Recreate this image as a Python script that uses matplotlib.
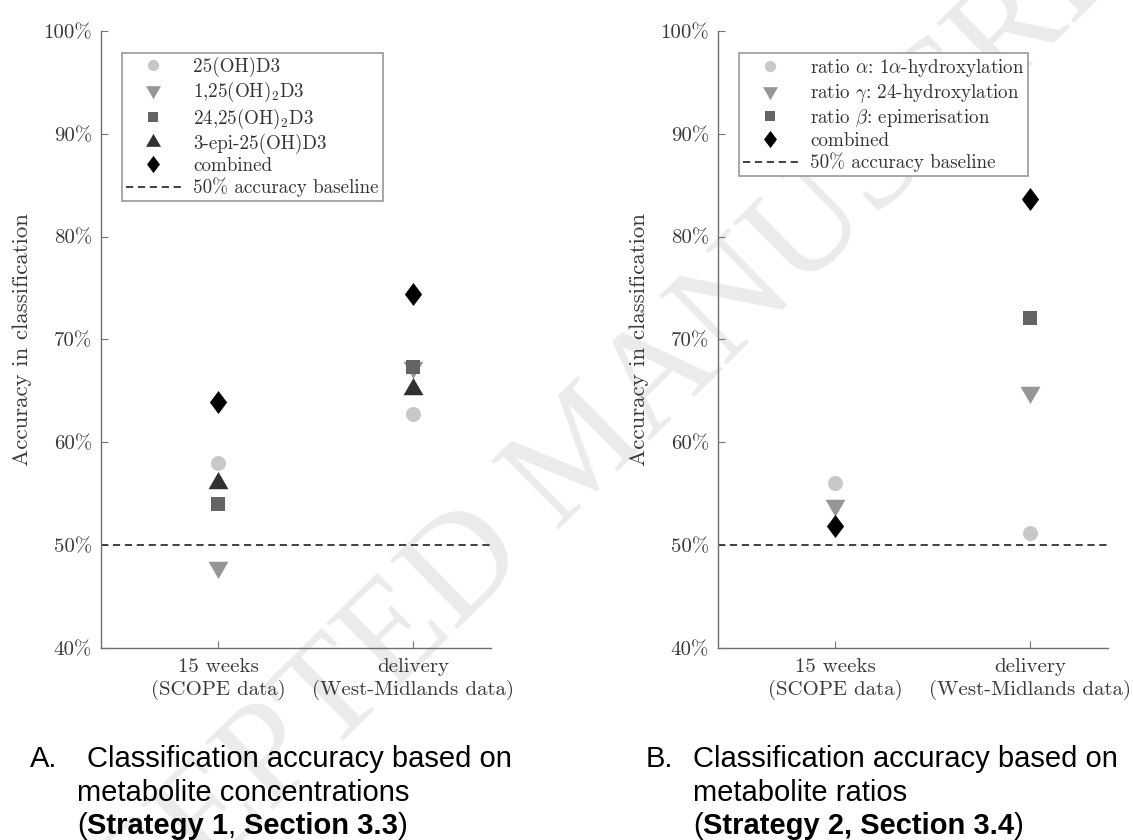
import numpy as np
import matplotlib
matplotlib.use('Agg')
import matplotlib.pyplot as plt

plt.rcParams['font.family'] = 'serif'
plt.rcParams['font.serif'] = ['cmr10']
plt.rcParams['mathtext.fontset'] = 'cm'
plt.rcParams['axes.unicode_minus'] = False
plt.rcParams['axes.formatter.use_mathtext'] = True

# ---------------- data ----------------
categories = ['15 weeks\n(SCOPE data)', 'delivery\n(West-Midlands data)']
ytick_values = [40, 50, 60, 70, 80, 90, 100]
ytick_labels = ['40%', '50%', '60%', '70%', '80%', '90%', '100%']
baseline_value = 50
baseline_label = '50% accuracy baseline'

# Panel A: metabolite concentrations
conc_labels = ['25(OH)D3', r'1,25(OH)$_2$D3', r'24,25(OH)$_2$D3',
               '3-epi-25(OH)D3', 'combined']
conc_25OHD3 = [58.0, 62.8]
conc_125OH2D3 = [47.9, 67.3]
conc_2425OH2D3 = [54.0, 67.3]
conc_3epi25OHD3 = [56.0, 65.2]
conc_combined = [63.9, 74.4]

# Panel B: metabolite ratios
ratio_labels = [r'ratio $\alpha$: 1$\alpha$-hydroxylation',
                r'ratio $\gamma$: 24-hydroxylation',
                r'ratio $\beta$: epimerisation', 'combined']
ratio_alpha = [56.0, 51.2]
ratio_gamma = [53.9, 64.9]
ratio_beta = [np.nan, 72.1]
ratio_combined = [51.9, 83.7]

caption_A = [
    [('A.', 'normal', 30)],
    [('Classification accuracy based on', 'normal', 87)],
    [('metabolite concentrations', 'normal', 77)],
    [('(', 'normal', 77), ('Strategy 1', 'bold', None), (', ', 'normal', None),
     ('Section 3.3', 'bold', None), (')', 'normal', None)],
]
caption_B = [
    [('B.', 'normal', 646)],
    [('Classification accuracy based on', 'normal', 693)],
    [('metabolite ratios', 'normal', 693)],
    [('(', 'normal', 693), ('Strategy 2, Section 3.4', 'bold', None),
     (')', 'normal', None)],
]

# ---------------- styles ----------------
W, H = 1133, 840
tri_up = [(0, 1.1547), (-1, -0.57735), (1, -0.57735), (0, 1.1547)]
tri_down = [(x, -y) for x, y in tri_up]
diamond = [(0, 1), (0.75, 0), (0, -1), (-0.75, 0), (0, 1)]
px = 72.0 / 100.0
st_circle = dict(marker='o', ms=15 * px, color='#c8c8c8')
st_tdown = dict(marker=tri_down, ms=23 * px, color='#969696')
st_square = dict(marker='s', ms=14 * px, color='#646464')
st_tup = dict(marker=tri_up, ms=23 * px, color='#303030')
st_diam = dict(marker=diamond, ms=23 * px, color='#000000')

fig = plt.figure(figsize=(W / 100, H / 100), dpi=100)
fig.patch.set_facecolor('white')

axA = fig.add_axes([101 / W, 1 - 648 / H, 390 / W, 617 / H])
axB = fig.add_axes([718 / W, 1 - 648 / H, 390 / W, 617 / H])

def draw_panel(ax, series, labels, styles):
    x = np.arange(len(categories))
    for vals, lab, st in zip(series, labels, styles):
        ax.plot(x, vals, linestyle='none', marker=st['marker'], ms=st['ms'],
                color=st['color'], markeredgewidth=0, label=lab, zorder=3)
    ax.axhline(baseline_value, color='#333333', lw=1.3, ls=(0, (4, 2.6)),
               label=baseline_label, zorder=2)
    ax.set_xlim(-0.6, 1.4)
    ax.set_ylim(40, 100)
    ax.set_xticks(x)
    ax.set_xticklabels(categories)
    ax.set_yticks(ytick_values)
    ax.set_yticklabels(ytick_labels)
    for t in ax.get_xticklabels():
        t.set_linespacing(1.3)
    ax.tick_params(direction='in', length=5, width=0.8, color='#777777',
                   labelcolor='#3a3a3a', labelsize=15)
    ax.tick_params(axis='y', pad=6.5)
    ax.tick_params(axis='x', pad=7)
    for s in ['top', 'right']:
        ax.spines[s].set_visible(False)
    for s in ['left', 'bottom']:
        ax.spines[s].set_color('#6e6e6e')
        ax.spines[s].set_linewidth(1.0)
    ax.set_facecolor('none')
    ax.set_ylabel('Accuracy in classification', fontsize=16.5, color='#3a3a3a')
    ax.yaxis.set_label_coords(-0.177, 0.5)
    leg = ax.legend(loc='upper left', bbox_to_anchor=(21 / 390, 1 - 22 / 617),
                    borderaxespad=0, fontsize=13.7, frameon=True, fancybox=False,
                    edgecolor='#999999', framealpha=1, handlelength=2.9,
                    handletextpad=0.65, borderpad=0.2, labelspacing=0.15,
                    markerscale=0.75)
    leg.get_frame().set_linewidth(1.2)
    for t in leg.get_texts():
        t.set_color('#333333')

draw_panel(axA, [conc_25OHD3, conc_125OH2D3, conc_2425OH2D3, conc_3epi25OHD3, conc_combined],
           conc_labels, [st_circle, st_tdown, st_square, st_tup, st_diam])
draw_panel(axB, [ratio_alpha, ratio_gamma, ratio_beta, ratio_combined],
           ratio_labels, [st_circle, st_tdown, st_square, st_diam])

# watermark
fig.text(585 / W, 1 - 455 / H, 'ACCEPTED MANUSCRIPT', rotation=44.5,
         rotation_mode='anchor', ha='center', va='center', fontsize=105,
         family='Liberation Serif', color='#ebebeb', zorder=-5)

# captions
fig.canvas.draw()
renderer = fig.canvas.get_renderer()
cap_font = dict(family='Liberation Sans', fontsize=21, color='black')

def text_width(s, weight):
    t1 = fig.text(0, 0, s + '|', weight=weight, **cap_font)
    t2 = fig.text(0, 0, '|', weight=weight, **cap_font)
    w = t1.get_window_extent(renderer).width - t2.get_window_extent(renderer).width
    t1.remove(); t2.remove()
    return w

def draw_caption(rows, baselines):
    # row 0 ('A.'/'B.') shares a baseline with row 1
    lines = [rows[0] + rows[1], rows[2], rows[3]]
    for runs, yb in zip(lines, baselines):
        x = None
        for s, weight, x0 in runs:
            if x0 is not None:
                x = x0
            fig.text(x / W, 1 - yb / H, s, weight=weight, ha='left',
                     va='baseline', **cap_font)
            x += text_width(s, weight)

draw_caption(caption_A, [767, 801, 834])
draw_caption(caption_B, [767, 801, 834])

fig.savefig('out.png', dpi=100)
